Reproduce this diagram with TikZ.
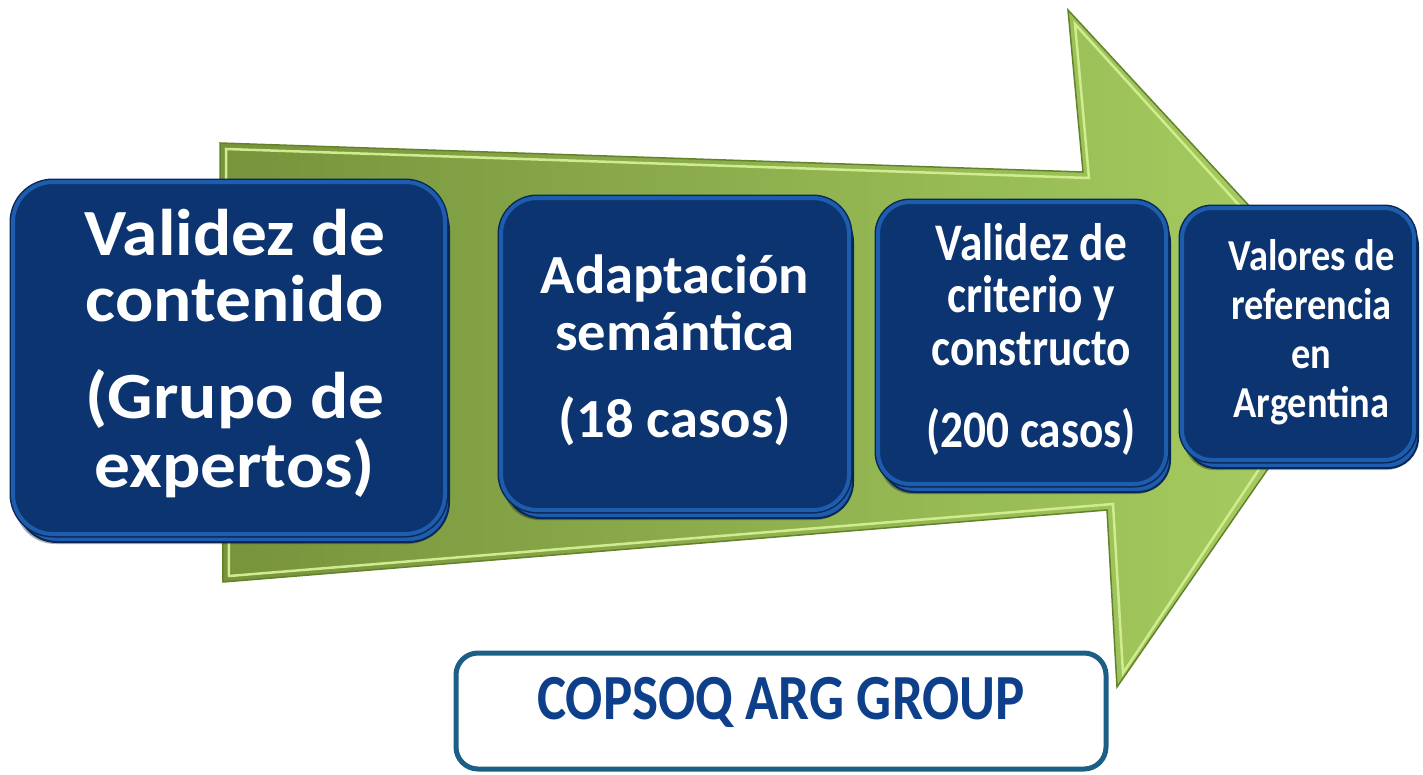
\documentclass[tikz,border=0pt]{standalone}
\usepackage{fontspec}
\setmainfont{Carlito}
\usetikzlibrary{shadows}
\definecolor{navy}{HTML}{0B3470}
\definecolor{boxblue}{HTML}{1E5CAE}
\definecolor{rimdark}{HTML}{0A2857}
\definecolor{grdark}{HTML}{77933C}
\definecolor{grlight}{HTML}{A9D062}
\definecolor{grhi}{HTML}{D0EC8E}
\definecolor{groutline}{HTML}{62822C}
\definecolor{tealb}{HTML}{1B5F86}
\definecolor{textblue}{HTML}{0D3F8A}
\tikzset{
  boxst/.style={rectangle, rounded corners=#1, fill=navy, draw=boxblue, line width=4pt,
    text=white, font=\bfseries, align=center, inner sep=0pt,
    drop shadow={shadow xshift=2pt, shadow yshift=-10pt, opacity=0.3, fill=black},
    preaction={fill=boxblue, draw=rimdark, line width=2pt, transform canvas={xshift=4pt, yshift=-8pt}},
    preaction={draw=rimdark, line width=7pt}},
  arrowbody/.style={left color=grdark, right color=grlight, draw=groutline, line width=1.5pt},
  arrowhi/.style={draw=grhi, line width=2.5pt, line join=miter},
  groupbox/.style={rectangle, rounded corners=22pt, draw=tealb, line width=5pt, fill=white, inner sep=0pt},
  grouptext/.style={text=textblue, font=\bfseries, inner sep=0pt}
}
% #1 xscale, #2 yscale, #3 font size, #4 arraystretch, #5 left pad, #6 text
\newcommand{\boxtext}[6]{\scalebox{#1}[#2]{\fontsize{#3}{#3}\selectfont\renewcommand{\arraystretch}{#4}\begin{tabular}{@{\hspace{#5}}c@{}}#6\end{tabular}}}
\begin{document}
\begin{tikzpicture}[x=1pt,y=-1pt]
\useasboundingbox (0,0) rectangle (1423,774);
% green arrow
\path[arrowbody] (220,143) -- (1083,172) -- (1068,10) -- (1364,330) -- (1117,687) -- (1107,510) -- (223,582) -- cycle;
\draw[arrowhi] (226,149) -- (1089,178) -- (1075,24) -- (1352,330) -- (1123,673) -- (1113,504) -- (229,576) -- cycle;
% boxes
\node[boxst=40pt, minimum width=432pt, minimum height=352pt] (b1) at (229,358)
  {\boxtext{1.19}{1.1}{60}{1.0}{10pt}{Validez de\\contenido\\[26pt](Grupo de\\expertos)}};
\node[boxst=36pt, minimum width=348pt, minimum height=312pt] (b2) at (675,354)
  {\boxtext{1.18}{1.15}{48}{1.03}{0pt}{Adaptación\\semántica\\[25pt](18 casos)}};
\node[boxst=32pt, minimum width=288pt, minimum height=282pt] (b3) at (1022,343)
  {\boxtext{1.03}{1.2}{44}{1.0}{18pt}{Validez de\\criterio y\\constructo\\[22pt](200 casos)}};
\node[boxst=30pt, minimum width=232pt, minimum height=252pt] (b4) at (1298,334)
  {\boxtext{1.13}{1.3}{34}{1.11}{24pt}{Valores de\\referencia\\en\\Argentina}};
% group label
\node[groupbox, minimum width=650pt, minimum height=116pt] (grp) at (781,711) {};
\node[grouptext] (grpt) at (781,702) {\scalebox{1}[1.17]{\fontsize{55}{60}\selectfont COPSOQ ARG GROUP}};
\end{tikzpicture}
\end{document}
